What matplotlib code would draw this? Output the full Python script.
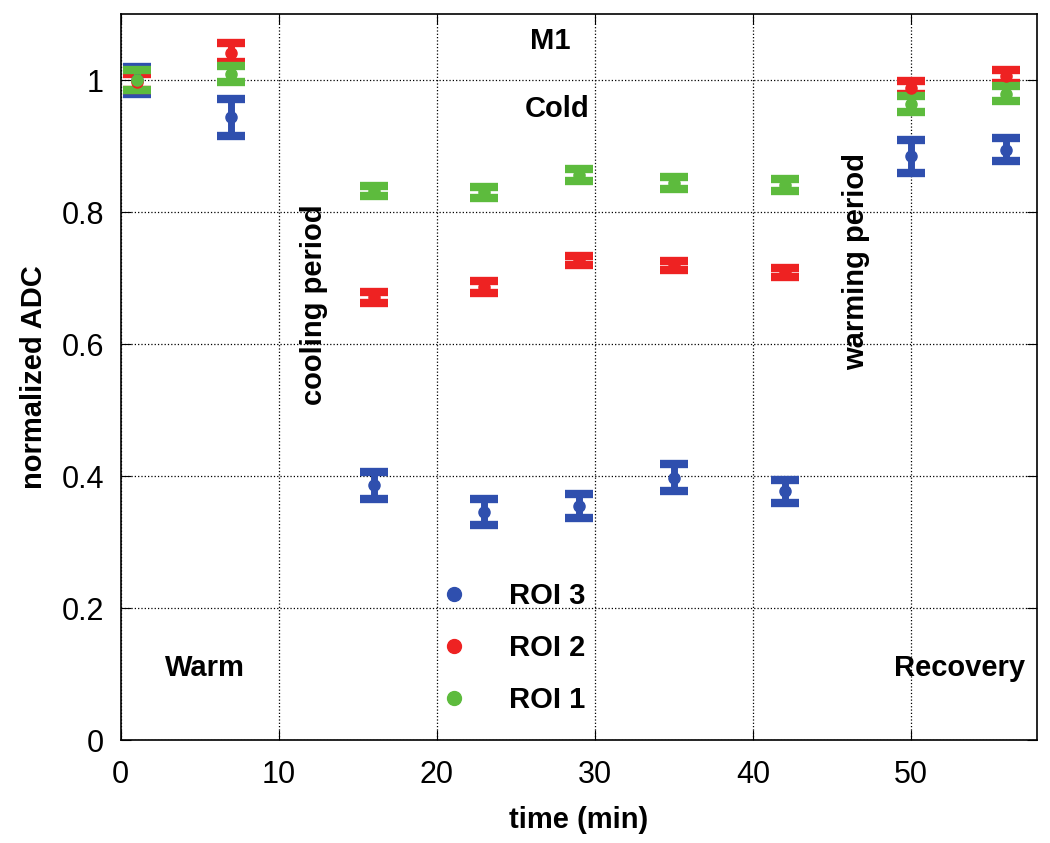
import numpy as np
import matplotlib.pyplot as plt
from matplotlib.lines import Line2D

# time points (min)
t = [1, 7, 16, 23, 29, 35, 42, 50, 56]

# normalized ADC per ROI and error bar half-widths
roi3 = [1.000, 0.944, 0.386, 0.346, 0.355, 0.398, 0.377, 0.885, 0.895]
roi3_err = [0.020, 0.028, 0.020, 0.020, 0.018, 0.020, 0.018, 0.025, 0.018]
roi2 = [0.998, 1.042, 0.671, 0.687, 0.727, 0.719, 0.709, 0.989, 1.006]
roi2_err = [0.012, 0.015, 0.008, 0.009, 0.007, 0.007, 0.007, 0.010, 0.010]
roi1 = [1.000, 1.010, 0.832, 0.830, 0.857, 0.845, 0.842, 0.964, 0.980]
roi1_err = [0.015, 0.012, 0.008, 0.008, 0.009, 0.009, 0.009, 0.012, 0.012]

series = [("ROI 3", roi3, roi3_err, "#2f4fae"),
          ("ROI 2", roi2, roi2_err, "#ee2222"),
          ("ROI 1", roi1, roi1_err, "#5dbb3d")]

plt.rcParams['font.family'] = ['Liberation Sans', 'DejaVu Sans']

fig = plt.figure(figsize=(10.5, 8.43), dpi=100)
ax = fig.add_axes([0.115, 0.122, 0.873, 0.861])

for name, y, e, c in series:
    ax.errorbar(t, y, yerr=e, fmt='o', color=c, ms=8, elinewidth=5,
                capsize=10, capthick=6)

ax.set_xlim(0, 58)
ax.set_ylim(0, 1.1)
ax.set_xticks([0, 10, 20, 30, 40, 50])
ax.set_yticks([0, 0.2, 0.4, 0.6, 0.8, 1])
ax.set_yticklabels(['0', '0.2', '0.4', '0.6', '0.8', '1'])
ax.grid(True, linestyle=':', color='black', linewidth=0.9)
ax.tick_params(direction='in', top=True, right=True, labelsize=22, length=7)
ax.tick_params(axis='x', pad=14)
ax.tick_params(axis='y', pad=12)
for s in ax.spines.values():
    s.set_linewidth(1.2)

ax.set_xlabel('time (min)', fontsize=21, fontweight='bold', labelpad=12)
ax.set_ylabel('normalized ADC', fontsize=21, fontweight='bold', labelpad=10)

tk = dict(fontsize=21, fontweight='bold', ha='center', va='center')
ax.text(27.2, 1.06, 'M1', **tk)
ax.text(27.6, 0.956, 'Cold', **tk)
ax.text(12.2, 0.66, 'cooling period', rotation=90, **tk)
ax.text(46.5, 0.725, 'warming period', rotation=90, **tk)
ax.text(5.3, 0.109, 'Warm', **tk)
ax.text(53.1, 0.109, 'Recovery', **tk)

handles = [Line2D([], [], marker='o', ls='none', color=c, ms=10) for _, _, _, c in series]
ax.legend(handles, [s[0] for s in series], loc='lower left',
          bbox_to_anchor=(0.303, 0.0), frameon=False,
          prop={'weight': 'bold', 'size': 21}, labelspacing=0.82,
          handletextpad=0.9)

fig.savefig('out.png', dpi=100)
